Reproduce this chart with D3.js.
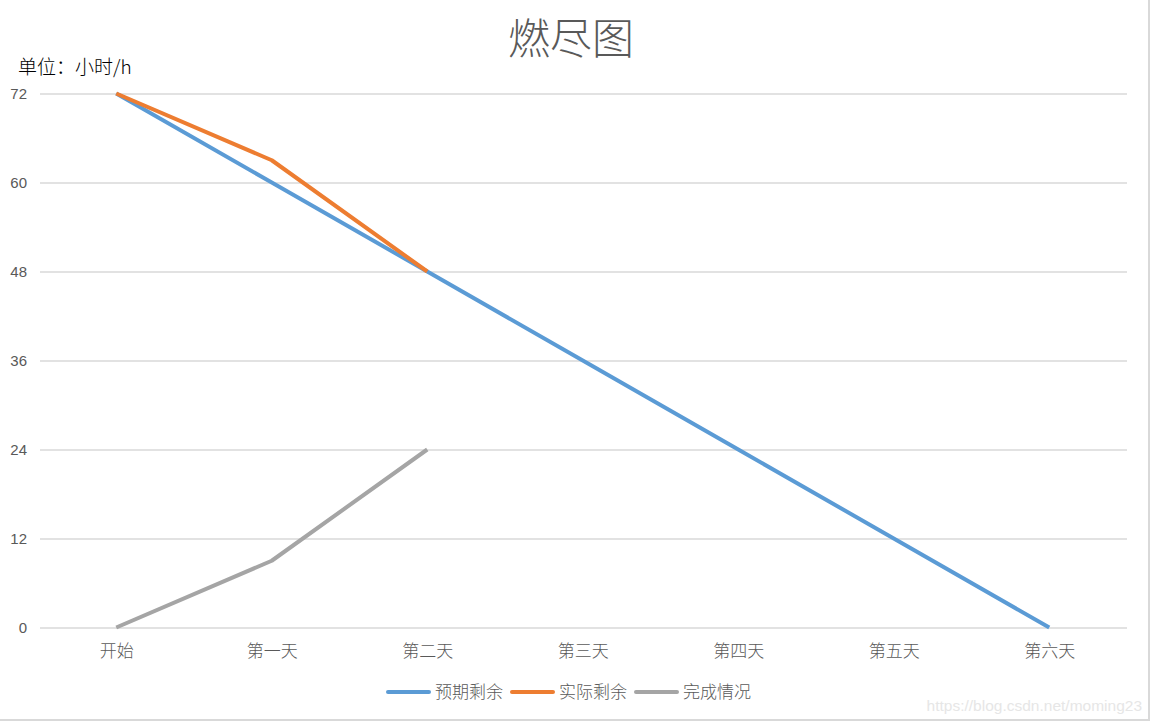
<!DOCTYPE html>
<html><head><meta charset="utf-8">
<script src="https://cdn.jsdelivr.net/npm/d3@7"></script>
<style>html,body{margin:0;padding:0;background:#fff;overflow:hidden}</style>
</head><body>
<svg id="c" width="1152" height="721"></svg>
<script>
const categories = ["开始","第一天","第二天","第三天","第四天","第五天","第六天"];
const expected = [72,60,48,36,24,12,0];
const actual = [72,63,48];
const done = [0,9,24];
const yTicks = [0,12,24,36,48,60,72];
const seriesNames = ["预期剩余","实际剩余","完成情况"];
const colors = ["#5b9bd5","#ed7d31","#a5a5a5"];

(function(){
const svg = d3.select("#c");
const pL = 38.5, pR = 1127, pT = 93.5, pB = 627.5;
const font = "'Noto Sans CJK SC', sans-serif";

// frame
svg.append("line").attr("x1",1149).attr("x2",1149).attr("y1",0).attr("y2",721).attr("stroke","#d9d9d9").attr("stroke-width",2);
svg.append("line").attr("x1",0).attr("x2",1150).attr("y1",720).attr("y2",720).attr("stroke","#d9d9d9").attr("stroke-width",2);

const x = d3.scalePoint().domain(categories).range([pL, pR]).padding(0.5);
const y = d3.scaleLinear().domain([0,72]).range([pB, pT]);

// grid
const yAxis = d3.axisLeft(y).tickValues(yTicks).tickSize(-(pR-40)).tickFormat("");
const gy = svg.append("g").attr("transform",`translate(40,0)`).call(yAxis);
gy.select(".domain").remove();
gy.selectAll(".tick line").attr("stroke","#d9d9d9").attr("stroke-width",1.5);

svg.append("g").selectAll("text").data(yTicks).join("text")
  .attr("x",27).attr("y",d=>y(d)).attr("dy","0.35em").attr("text-anchor","end")
  .attr("fill","#595959").attr("font-size",15).attr("font-family","'Liberation Sans', Arial, sans-serif")
  .text(d=>d);

const xAxis = d3.axisBottom(x).tickSize(0).tickPadding(17);
const gx = svg.append("g").attr("transform",`translate(0,${pB})`).call(xAxis);
gx.select(".domain").remove();
gx.selectAll(".tick text").attr("fill","#595959").attr("font-size",17).attr("font-family",font).attr("font-weight",300);

// lines
const line = d3.line().x((d,i)=>x(categories[i])).y(d=>y(d));
[expected, actual, done].forEach((s,k)=>{
  svg.append("path").datum(s).attr("d",line).attr("fill","none")
    .attr("stroke",colors[k]).attr("stroke-width",4).attr("stroke-linejoin","round");
});

// title
svg.append("text").attr("x",571).attr("y",54).attr("text-anchor","middle")
  .attr("font-size",42).attr("font-family",font).attr("font-weight",300).attr("fill","#595959").text("燃尽图");
svg.append("text").attr("x",18).attr("y",74).attr("font-size",19).attr("font-family",font).attr("font-weight",300).attr("fill","#000").text("单位：小时/h");

// legend
const lg = svg.append("g");
const legendX = [388, 512, 636];
seriesNames.forEach((n,k)=>{
  lg.append("line").attr("x1",legendX[k]).attr("x2",legendX[k]+41).attr("y1",692).attr("y2",692)
    .attr("stroke",colors[k]).attr("stroke-width",4).attr("stroke-linecap","round");
  lg.append("text").attr("x",legendX[k]+47).attr("y",698).attr("font-size",17).attr("font-family",font)
    .attr("font-weight",300).attr("fill","#595959").text(n);
});

// watermark
svg.append("text").attr("x",1142).attr("y",711).attr("text-anchor","end").attr("font-size",15.5)
  .attr("font-family","'Liberation Sans', Arial, sans-serif").attr("fill","#e6e6e6").text("https://blog.csdn.net/moming23");
})();
</script>
</body></html>
